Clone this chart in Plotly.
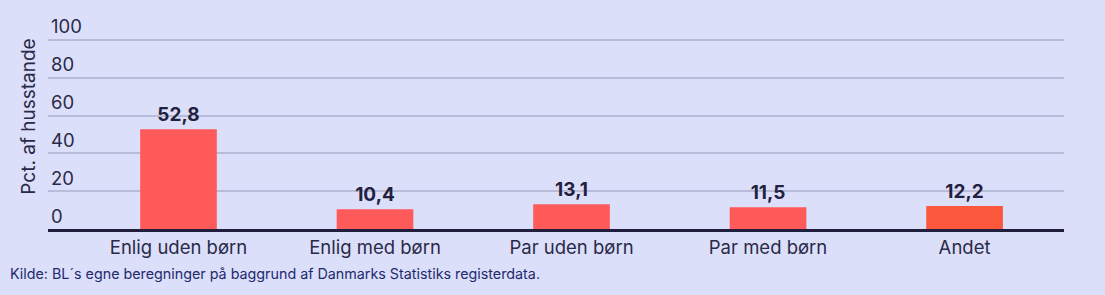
import plotly.graph_objects as go

categories = ["Enlig uden børn", "Enlig med børn", "Par uden børn", "Par med børn", "Andet"]
values = [52.8, 10.4, 13.1, 11.5, 12.2]
bar_colors = ["#ff5a5a", "#ff5a5a", "#ff5a5a", "#ff5a5a", "#fa573c"]
y_ticks = [0, 20, 40, 60, 80, 100]

FONT = "Inter"
DARK = "#22213f"
BG = "#dcdffa"

fig = go.Figure(go.Bar(
    x=categories,
    y=values,
    marker=dict(color=bar_colors, line=dict(width=0)),
    width=0.39,
    texttemplate="<b>%{y:.1f}</b>",
    textposition="outside",
    textfont=dict(family=FONT, size=19, color=DARK),
    cliponaxis=False,
    hoverinfo="skip",
))

fig.update_layout(
    width=1105, height=295,
    margin=dict(l=48, r=41, t=4, b=65.7),
    paper_bgcolor=BG, plot_bgcolor=BG,
    separators=",.",
    showlegend=False,
    font=dict(family=FONT, color=DARK, size=18),
    bargap=0.6,
)
fig.update_xaxes(
    range=[-0.664, 4.506],
    showline=True, linecolor="#201d3d", linewidth=3,
    ticks="", tickfont=dict(family=FONT, size=18.5, color="#2a2a48"),
    showgrid=False,
)
fig.update_yaxes(
    range=[0, 100 + 36 / 1.893],
    tickvals=y_ticks,
    ticklabelposition="inside top",
    tickfont=dict(family=FONT, size=18.5, color="#2a2a48"),
    gridcolor="#b9bcd8", gridwidth=2,
    zeroline=False,
    showline=False,
    title=dict(text="Pct. af husstande", font=dict(family=FONT, size=19, color="#2a2a48"), standoff=10),
)
fig.add_annotation(
    text="Kilde: BL´s egne beregninger på baggrund af Danmarks Statistiks registerdata.",
    xref="paper", yref="paper", x=0, xshift=-40, y=0, yshift=-45,
    xanchor="left", yanchor="middle", showarrow=False,
    font=dict(family=FONT, size=14.3, color="#1e2a6e"),
)

fig.write_html("out.html")
